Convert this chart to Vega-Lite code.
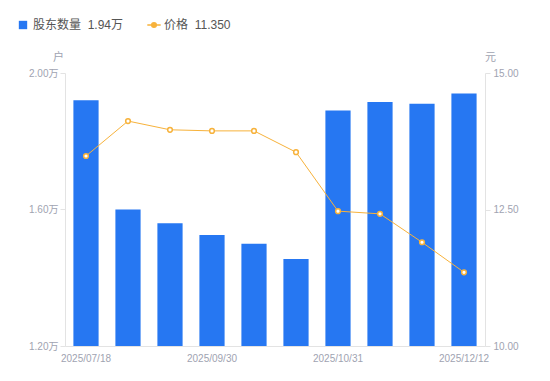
{
  "$schema": "https://vega.github.io/schema/vega-lite/v6.json",
  "autosize": {"type": "none"},
  "width": 420,
  "height": 273,
  "padding": {"left": 65, "top": 73, "right": 65, "bottom": 35},
  "background": "white",
  "config": {
    "view": {"stroke": null},
    "font": "Liberation Sans, Noto Sans CJK SC, sans-serif"
  },
  "data": {
    "values": [
      {"date": "2025/07/18", "holders": 1.92, "price": 13.48},
      {"date": "2025/08/15", "holders": 1.60, "price": 14.12},
      {"date": "2025/09/10", "holders": 1.56, "price": 13.96},
      {"date": "2025/09/30", "holders": 1.525, "price": 13.94},
      {"date": "2025/10/10", "holders": 1.50, "price": 13.94},
      {"date": "2025/10/20", "holders": 1.455, "price": 13.55},
      {"date": "2025/10/31", "holders": 1.89, "price": 12.47},
      {"date": "2025/11/14", "holders": 1.915, "price": 12.42},
      {"date": "2025/11/28", "holders": 1.91, "price": 11.90},
      {"date": "2025/12/12", "holders": 1.94, "price": 11.35}
    ]
  },
  "encoding": {
    "x": {
      "field": "date",
      "type": "nominal",
      "sort": null,
      "scale": {"paddingInner": 0.4, "paddingOuter": 0.2},
      "axis": {
        "title": null,
        "values": ["2025/07/18", "2025/09/30", "2025/10/31", "2025/12/12"],
        "labelAngle": 0,
        "labelFontSize": 10,
        "labelColor": "#a0a3b1",
        "labelPadding": 7,
        "ticks": false,
        "domainColor": "#e3e3e3",
        "labelFlush": false
      }
    }
  },
  "layer": [
    {
      "mark": {"type": "bar", "color": "#2677F2"},
      "encoding": {
        "y": {
          "field": "holders",
          "type": "quantitative",
          "scale": {"domain": [1.2, 2.0], "zero": false, "nice": false},
          "axis": {
            "title": "户",
            "titleAngle": 0,
            "titleX": -7,
            "titleY": -16,
            "titleAlign": "center",
            "titleBaseline": "middle",
            "titleFontSize": 11,
            "titleFontWeight": "normal",
            "titleColor": "#a0a3b1",
            "values": [1.2, 1.6, 2.0],
            "labelExpr": "format(datum.value, '.2f') + '万'",
            "labelFontSize": 10,
            "labelColor": "#a0a3b1",
            "tickColor": "#e3e3e3",
            "tickSize": 5,
            "labelPadding": 2,
            "domainColor": "#e3e3e3",
            "grid": false
          }
        },
        "y2": {"datum": 1.2},
        "color": {
          "datum": "股东数量",
          "scale": {"domain": ["股东数量", "价格"], "range": ["#2677F2", "#F7B23B"]},
          "legend": {
            "title": null,
            "orient": "none",
            "legendX": -48,
            "legendY": -54,
            "direction": "horizontal",
            "labelFontSize": 12,
            "labelColor": "#555555",
            "symbolSize": 70,
            "columnPadding": 20,
            "labelExpr": "datum.label == '股东数量' ? '股东数量\u00a0\u00a01.94万' : '价格\u00a0\u00a011.350'",
            "encode": {
              "symbols": {
                "update": {
                  "shape": {"signal": "datum.value == '价格' ? 'M-1.6,0H-0.55M0.55,0H1.6M-0.55,0A0.55,0.55,0,1,1,0.55,0A0.55,0.55,0,1,1,-0.55,0' : 'square'"},
                  "fill": {"signal": "datum.value == '价格' ? 'white' : '#2677F2'"},
                  "stroke": {"signal": "datum.value == '价格' ? '#F7B23B' : '#2677F2'"},
                  "strokeWidth": {"signal": "datum.value == '价格' ? 1.5 : 0"}
                }
              }
            }
          }
        }
      }
    },
    {
      "layer": [
        {
          "mark": {"type": "line", "strokeWidth": 1, "color": "#F7B23B"},
          "encoding": {
            "y": {
              "field": "price",
              "type": "quantitative",
              "scale": {"domain": [10, 15], "zero": false, "nice": false},
              "axis": {
                "orient": "right",
                "title": "元",
                "titleAngle": 0,
                "titleX": 5,
                "titleY": -16,
                "titleAlign": "center",
                "titleBaseline": "middle",
                "titleFontSize": 11,
                "titleFontWeight": "normal",
                "titleColor": "#a0a3b1",
                "values": [10, 12.5, 15],
                "format": ".2f",
                "labelFontSize": 10,
                "labelColor": "#a0a3b1",
                "tickColor": "#e3e3e3",
                "tickSize": 5,
                "labelPadding": 3,
                "domainColor": "#e3e3e3",
                "grid": false
              }
            },
            "color": {"datum": "价格"}
          }
        },
        {
          "mark": {"type": "point", "filled": false, "fill": "white", "strokeWidth": 1.5, "size": 22, "opacity": 1},
          "encoding": {
            "y": {"field": "price", "type": "quantitative"},
            "color": {"datum": "价格"}
          }
        }
      ]
    }
  ],
  "resolve": {"scale": {"y": "independent"}}
}
